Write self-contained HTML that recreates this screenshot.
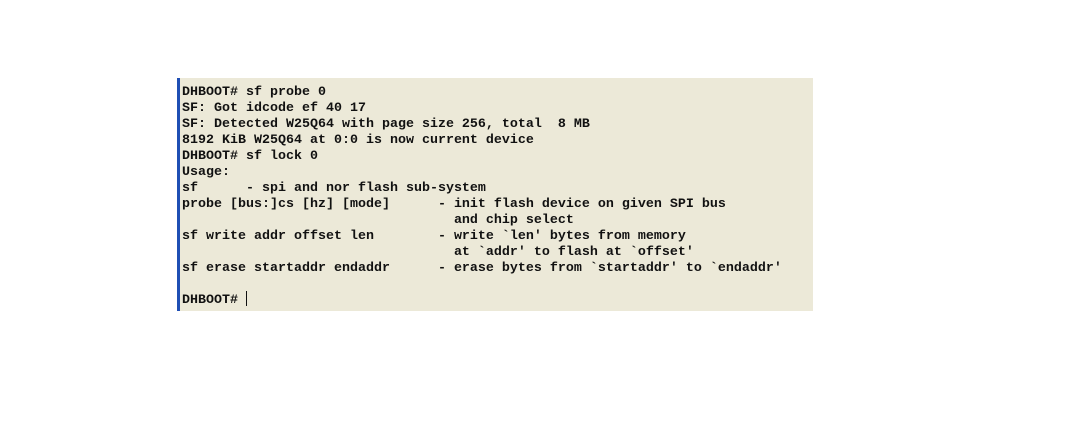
<!DOCTYPE html>
<html><head><meta charset="utf-8"><style>
html,body{margin:0;padding:0;background:#fff;width:1068px;height:441px;overflow:hidden}
.box{position:absolute;left:177px;top:78px;width:636px;height:233px;background:#ECE9D8;border-left:3px solid #1F4FB4;box-sizing:border-box}
pre{position:absolute;left:182px;top:85px;margin:0;font-family:"Liberation Mono",monospace;font-size:13.33px;line-height:16px;font-weight:bold;color:#111;}
.cur{position:absolute;left:246px;top:291px;width:1px;height:15px;background:#111}
</style></head><body>
<div class="box"></div>
<pre>DHBOOT# sf probe 0
SF: Got idcode ef 40 17
SF: Detected W25Q64 with page size 256, total  8 MB
8192 KiB W25Q64 at 0:0 is now current device
DHBOOT# sf lock 0
Usage:
sf      - spi and nor flash sub-system
probe [bus:]cs [hz] [mode]      - init flash device on given SPI bus
                                  and chip select
sf write addr offset len        - write `len' bytes from memory
                                  at `addr' to flash at `offset'
sf erase startaddr endaddr      - erase bytes from `startaddr' to `endaddr'

DHBOOT# </pre>
<div class="cur"></div>
</body></html>
